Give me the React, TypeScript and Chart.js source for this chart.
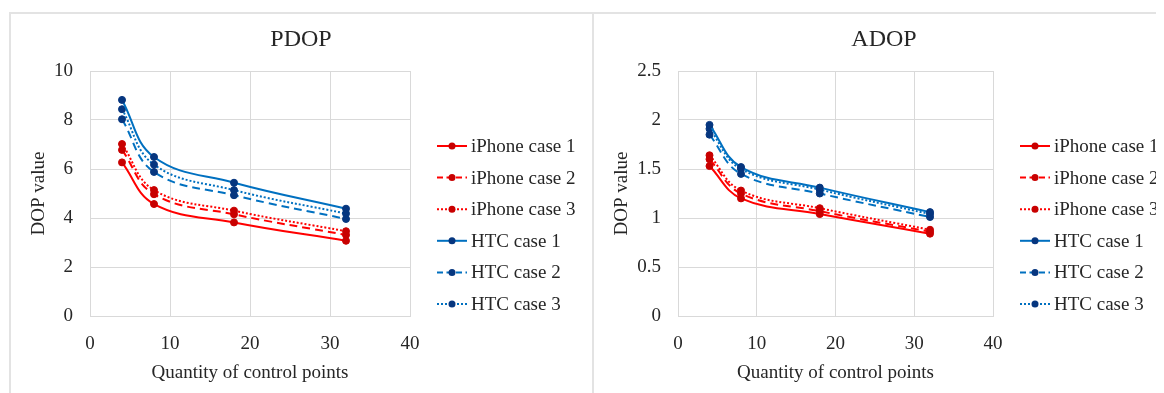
import React, { useEffect, useRef } from "react";
import { Chart, registerables } from "chart.js";

Chart.register(...registerables);

const controlPoints = [4, 8, 18, 32];
const seriesNames = ["iPhone case 1", "iPhone case 2", "iPhone case 3", "HTC case 1", "HTC case 2", "HTC case 3"];

const pdopIphone1 = [6.27, 4.57, 3.82, 3.07];
const pdopIphone2 = [6.78, 4.97, 4.15, 3.31];
const pdopIphone3 = [7.02, 5.14, 4.3, 3.46];
const pdopHtc1 = [8.82, 6.49, 5.44, 4.38];
const pdopHtc2 = [8.03, 5.88, 4.93, 3.96];
const pdopHtc3 = [8.44, 6.18, 5.14, 4.18];

const adopIphone1 = [1.53, 1.2, 1.04, 0.84];
const adopIphone2 = [1.6, 1.25, 1.07, 0.86];
const adopIphone3 = [1.64, 1.28, 1.1, 0.88];
const adopHtc1 = [1.95, 1.52, 1.31, 1.06];
const adopHtc2 = [1.85, 1.45, 1.25, 1.01];
const adopHtc3 = [1.91, 1.5, 1.29, 1.04];

const RED = "#FF0000";
const RED_MARK = "#C80000";
const BLUE = "#0070C0";
const BLUE_MARK = "#06367F";
const FONT = "'Liberation Serif', 'Times New Roman', serif";
const TEXT = "#262626";
const GRID = "#d9d9d9";

const styles = [
  { color: RED, mark: RED_MARK, dash: [] as number[] },
  { color: RED, mark: RED_MARK, dash: [8, 5] },
  { color: RED, mark: RED_MARK, dash: [2, 2] },
  { color: BLUE, mark: BLUE_MARK, dash: [] as number[] },
  { color: BLUE, mark: BLUE_MARK, dash: [8, 5] },
  { color: BLUE, mark: BLUE_MARK, dash: [2, 2] },
];

type Cfg = {
  title: string;
  series: number[][];
  yMax: number;
  yStep: number;
  yWidth: number;
  width: number;
};

function makeDatasets(series: number[][]) {
  return series.map((vals, i) => ({
    label: seriesNames[i],
    data: controlPoints.map((x, j) => ({ x, y: vals[j] })),
    borderColor: styles[i].color,
    borderDash: styles[i].dash,
    borderWidth: 2,
    pointRadius: 3.5,
    pointBackgroundColor: styles[i].mark,
    pointBorderColor: styles[i].mark,
    pointBorderWidth: 1,
    tension: 0.4,
    fill: false,
  }));
}

const overlayPlugin = (title: string) => ({
  id: "overlay",
  afterDraw(chart: any) {
    const ctx = chart.ctx;
    ctx.save();
    ctx.fillStyle = TEXT;
    ctx.font = `24px ${FONT}`;
    ctx.textAlign = "center";
    ctx.textBaseline = "alphabetic";
    ctx.fillText(title, 289, 32);

    const x0 = chart.chartArea.right + 27;
    chart.data.datasets.forEach((ds: any, i: number) => {
      const y = 132 + i * 31.6;
      ctx.strokeStyle = ds.borderColor;
      ctx.lineWidth = 2;
      ctx.setLineDash(i % 3 === 1 ? [6, 3.5] : i % 3 === 2 ? [2, 2] : []);
      ctx.beginPath();
      ctx.moveTo(x0, y);
      ctx.lineTo(x0 + 30, y);
      ctx.stroke();
      ctx.setLineDash([]);
      ctx.fillStyle = ds.pointBackgroundColor;
      ctx.beginPath();
      ctx.arc(x0 + 15, y, 3.5, 0, Math.PI * 2);
      ctx.fill();
      ctx.fillStyle = TEXT;
      ctx.font = `19px ${FONT}`;
      ctx.textAlign = "left";
      ctx.textBaseline = "middle";
      ctx.fillText(ds.label, x0 + 34, y + 1);
    });
    ctx.restore();
  },
});

function DopChart({ cfg }: { cfg: Cfg }) {
  const ref = useRef<HTMLCanvasElement | null>(null);
  useEffect(() => {
    if (!ref.current) return;
    const chart = new Chart(ref.current, {
      type: "line",
      data: { datasets: makeDatasets(cfg.series) as any },
      options: {
        animation: false,
        responsive: false,
        devicePixelRatio: 1,
        layout: { padding: { top: 57, left: 0, bottom: 0, right: cfg.width - 398 } },
        plugins: { legend: { display: false }, title: { display: false }, tooltip: { enabled: false } },
        scales: {
          x: {
            type: "linear",
            min: 0,
            max: 40,
            ticks: { stepSize: 10, color: TEXT, font: { family: FONT, size: 19 }, padding: 17 },
            grid: { color: GRID, drawTicks: false },
            border: { color: GRID },
            title: { display: true, text: "Quantity of control points", color: TEXT, font: { family: FONT, size: 19 }, padding: { top: 0, bottom: 9 } },
            afterFit: (s: any) => { s.height = 77; },
          },
          y: {
            type: "linear",
            min: 0,
            max: cfg.yMax,
            ticks: { stepSize: cfg.yStep, color: TEXT, font: { family: FONT, size: 19 }, padding: 17, callback: (v: any) => `${Number(v)}` },
            grid: { color: GRID, drawTicks: false },
            border: { color: GRID },
            title: { display: true, text: "DOP value", color: TEXT, font: { family: FONT, size: 19 }, padding: { top: 16, bottom: 0 } },
            afterFit: (s: any) => { s.width = cfg.yWidth; },
          },
        },
      },
      plugins: [overlayPlugin(cfg.title)],
    });
    return () => chart.destroy();
  }, []);
  return <canvas ref={ref} width={cfg.width} height={379} style={{ display: "block", width: cfg.width, height: 379 }} />;
}

const pdopCfg: Cfg = {
  title: "PDOP",
  series: [pdopIphone1, pdopIphone2, pdopIphone3, pdopHtc1, pdopHtc2, pdopHtc3],
  yMax: 10,
  yStep: 2,
  yWidth: 78,
  width: 580,
};

const adopCfg: Cfg = {
  title: "ADOP",
  series: [adopIphone1, adopIphone2, adopIphone3, adopHtc1, adopHtc2, adopHtc3],
  yMax: 2.5,
  yStep: 0.5,
  yWidth: 83,
  width: 569,
};

export default function App() {
  const line = "#e3e3e3";
  return (
    <div style={{ position: "relative", width: 1156, height: 385, overflow: "hidden", background: "#fff" }}>
      <div style={{ position: "absolute", left: 1, top: 4, width: 1155, height: 381, borderTop: `2px solid ${line}`, borderLeft: `2px solid ${line}`, boxSizing: "border-box" }} />
      <div style={{ position: "absolute", left: 584, top: 4, width: 2, height: 381, background: line }} />
      <div style={{ position: "absolute", left: 4, top: 6 }}>
        <DopChart cfg={pdopCfg} />
      </div>
      <div style={{ position: "absolute", left: 587, top: 6 }}>
        <DopChart cfg={adopCfg} />
      </div>
    </div>
  );
}
